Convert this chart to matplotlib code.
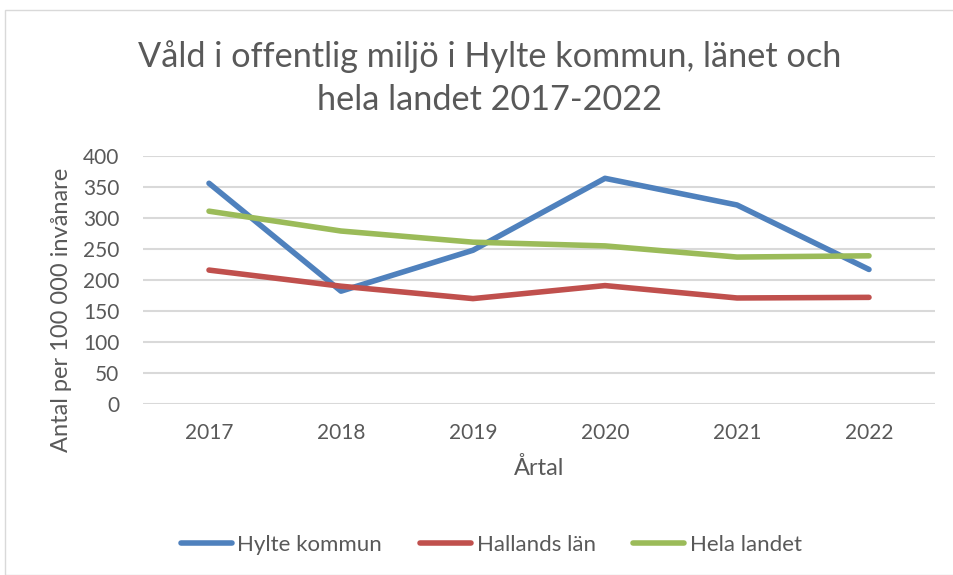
import matplotlib
matplotlib.use("Agg")
import matplotlib.pyplot as plt
from matplotlib.patches import Rectangle

years = ["2017", "2018", "2019", "2020", "2021", "2022"]
hylte = [356, 182, 248, 364, 321, 217]
halland = [216, 190, 170, 191, 171, 172]
sverige = [311, 279, 261, 255, 237, 239]

plt.rcParams['font.family'] = ['Lato', 'DejaVu Sans']
grey = '#595959'

fig = plt.figure(figsize=(9.54, 5.75), dpi=100)
# ramen runt diagrammet
fig.patches.append(Rectangle((5 / 954, 0), 1, 1 - 10 / 575, transform=fig.transFigure,
                             fill=False, edgecolor='#d9d9d9', linewidth=1))

ax = fig.add_axes([143 / 954, 1 - 404 / 575, 792 / 954, 248 / 575])
x = range(len(years))
ax.plot(x, hylte, color='#4f81bd', lw=4, label='Hylte kommun', solid_capstyle='round')
ax.plot(x, halland, color='#c0504d', lw=4, label='Hallands län', solid_capstyle='round')
ax.plot(x, sverige, color='#9bbb59', lw=4, label='Hela landet', solid_capstyle='round')

ax.set_xlim(-0.5, len(years) - 0.5)
ax.set_ylim(0, 400)
ax.set_yticks(range(0, 401, 50))
ax.set_xticks(list(x))
ax.set_xticklabels(years)
ax.grid(axis='y', color='#d9d9d9', lw=1.5)
ax.set_axisbelow(True)
for s in ax.spines.values():
    s.set_visible(False)
ax.tick_params(length=0, labelsize=15, colors=grey)
ax.tick_params(axis='y', pad=17)
ax.tick_params(axis='x', pad=14)

ax.set_xlabel('Årtal', fontsize=17, color=grey, labelpad=10)
ax.set_ylabel('Antal per 100 000 invånare', fontsize=17, color=grey)
ax.yaxis.set_label_coords(-0.09, 0.379)

fig.text(0.513, 1 - 78 / 575, 'Våld i offentlig miljö i Hylte kommun, länet och\nhela landet 2017-2022',
         ha='center', va='center', fontsize=24.7, color=grey, linespacing=1.4)

fig.legend(loc='center', bbox_to_anchor=(0.515, 1 - 545 / 575), ncol=3, frameon=False,
           fontsize=16, labelcolor=grey, handlelength=2.3, columnspacing=1.7, handletextpad=0.25)

fig.savefig('out.png', dpi=100)
